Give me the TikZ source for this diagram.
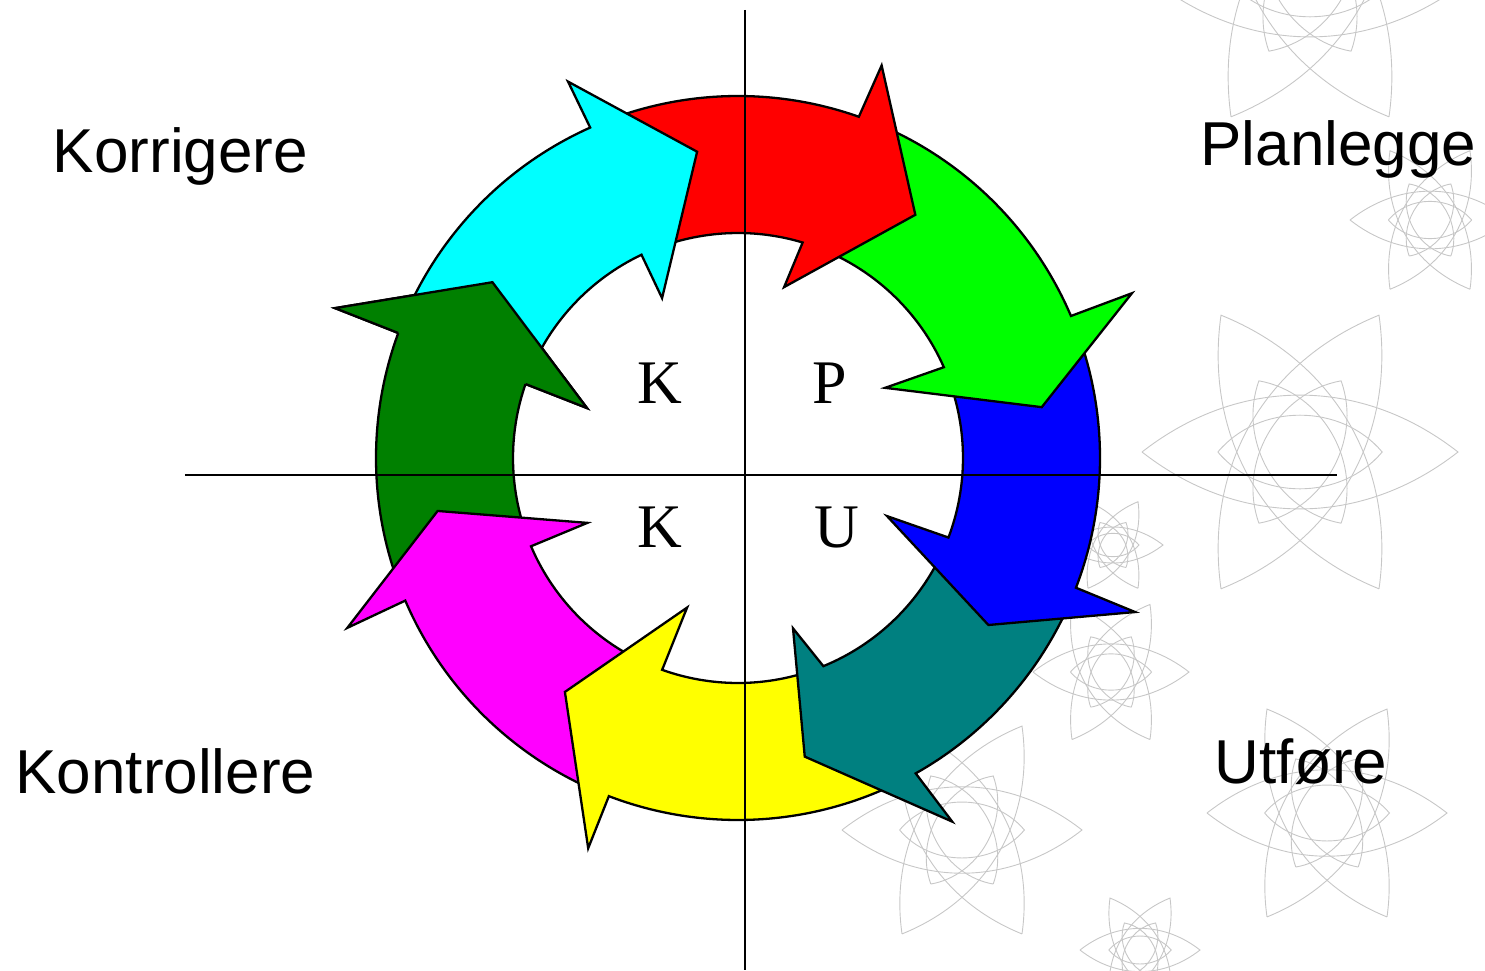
\documentclass[tikz,border=0pt]{standalone}
\usepackage{fontspec}
\newfontfamily\arialfont{Liberation Sans}
\newfontfamily\timesfont{Liberation Serif}
\usepackage{tikz}
\definecolor{pdcacyan}{RGB}{0,255,255}
\definecolor{pdcared}{RGB}{255,0,0}
\definecolor{pdcagreen}{RGB}{0,255,0}
\definecolor{pdcablue}{RGB}{0,0,255}
\definecolor{pdcateal}{RGB}{0,128,128}
\definecolor{pdcayellow}{RGB}{255,255,0}
\definecolor{pdcamagenta}{RGB}{255,0,255}
\definecolor{pdcadkgreen}{RGB}{0,128,0}
\newcommand\Ro{362}
\newcommand\Ri{225}

\begin{document}
\begin{tikzpicture}[
  x=1pt,y=1pt,
  seg/.style={draw=black,line width=2.3pt,line join=miter},
  ax/.style={draw=black,line width=2pt},
  word/.style={font=\arialfont\fontsize{62}{70}\selectfont,inner sep=0pt,anchor=base},
  letter/.style={font=\timesfont\fontsize{62}{70}\selectfont,inner sep=0pt,anchor=base},
  orn/.style={draw=black!22,line width=0.9pt}
]
\useasboundingbox (-738,-512) rectangle (747,458);
% faint ornament in the background
\begin{scope}
\clip (-738,-512) rectangle (747,458);
\foreach \cx/\cy/\len in {562/6/158, 572/478/158, 224/-372/120, 589/-355/120,
                          373/-214/78, 402/-492/60, 375/-87/50, 692/238/80}{
  \foreach \a in {0,60,120}{
    \draw[orn,shift={(\cx,\cy)},rotate=\a] (-\len,0) to[bend left=38] (\len,0) to[bend left=38] (-\len,0);
    \draw[orn,shift={(\cx,\cy)},rotate=\a] (-0.52*\len,0) to[bend left=50] (0.52*\len,0) to[bend left=50] (-0.52*\len,0);
  }
}
\end{scope}
% ring of arrows, drawn against the clock so each head lies on the next tail
\foreach \clr/\tlo/\tli/\bo/\wo/\wro/\tp/\tr/\wi/\wri/\bi in {
  pdcadkgreen/200.2/200.1/159.8/159.6/430/144.4/302/161.7/159/160.8,
  pdcamagenta/-113.9/-112.7/-156.8/-156.5/426/-170/305/-156.7/164/-156.9,
  pdcayellow/-63.6/-70.7/-110.9/-111/418/-126.5/291/-108.8/158/-109.7,
  pdcateal/-24/-23.7/-60.6/-59.5/422/-77.4/306/-72.1/179/-67.7,
  pdcablue/20/20.8/-21/-21.2/426/-33.7/301/-21.3/160/-20.7,
  pdcagreen/67.5/70.3/23.1/22.7/427/9.5/308/25.5/163/23.8,
  pdcared/111/112.4/70.5/69.9/418/53.9/301/74.9/177/73.3,
  pdcacyan/157/157.8/114.1/114.3/413/97.6/309/115.4/177/115.4}{
  \filldraw[seg,fill=\clr] (\tlo:\Ro) arc[start angle=\tlo,end angle=\bo,radius=\Ro]
    -- (\wo:\wro) -- (\tp:\tr) -- (\wi:\wri) -- (\bi:\Ri)
    arc[start angle=\bi,end angle=\tli,radius=\Ri] -- cycle;
}
% dark green head once more, over the cyan tail
\fill[pdcadkgreen] (159.8:\Ro) -- (159.6:430) -- (144.4:302) -- (161.7:159) -- (160.8:\Ri) -- cycle;
\draw[seg] (159.8:\Ro) -- (159.6:430) -- (144.4:302) -- (161.7:159) -- (160.8:\Ri);
% axes
\coordinate (vtop) at (7,448);
\coordinate (vbot) at (7,-512);
\coordinate (hleft) at (-553,-17);
\coordinate (hright) at (599,-17);
\draw[ax] (vtop) -- (vbot);
\draw[ax] (hleft) -- (hright);
% words
\node[word] (korr) at (-557.5,286) {Korrigere};
\node[word] (plan) at (600.5,293) {Planlegge};
\node[word] (kontr) at (-572.5,-335) {Kontrollere};
\node[word] (utf) at (563,-325) {Utføre};
\node[letter] (kup) at (-78,55) {K};
\node[letter] (pup) at (92,55) {P};
\node[letter] (kdn) at (-78,-89) {K};
\node[letter] (udn) at (99,-89) {U};
\end{tikzpicture}
\end{document}
